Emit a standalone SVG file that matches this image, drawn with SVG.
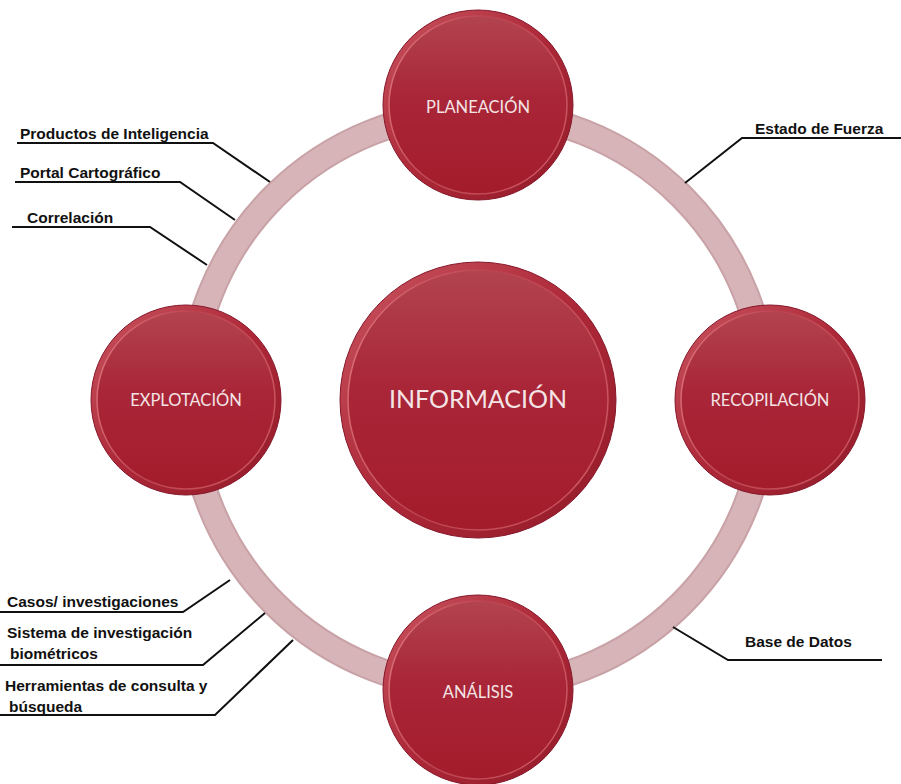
<svg xmlns="http://www.w3.org/2000/svg" width="901" height="784" viewBox="0 0 901 784">
<defs>
<linearGradient id="rim" x1="0" y1="0" x2="1" y2="1">
<stop offset="0" stop-color="#c9545f"/>
<stop offset="0.5" stop-color="#ad2838"/>
<stop offset="1" stop-color="#921b29"/>
</linearGradient>
<linearGradient id="face" x1="0" y1="0" x2="0" y2="1">
<stop offset="0" stop-color="#b2444f"/>
<stop offset="0.45" stop-color="#a92638"/>
<stop offset="1" stop-color="#a31c2c"/>
</linearGradient>
<linearGradient id="edge" x1="0" y1="0" x2="1" y2="0.3">
<stop offset="0" stop-color="#e07880"/>
<stop offset="0.5" stop-color="#bb4350"/>
<stop offset="1" stop-color="#c9535e"/>
</linearGradient>
<style>
.ring{fill:none;stroke:#c8a2a6;stroke-width:27}
.ringin{fill:none;stroke:#d6b4b7;stroke-width:23}
.outer{fill:url(#rim);stroke:#86172a;stroke-width:1}
.inner{fill:url(#face);stroke:url(#edge);stroke-width:1.5}
.t{font-family:Lato,"Open Sans",sans-serif;fill:#f4e4e6;text-anchor:middle}
.s{font-size:16.5px}
.lbl{font-family:"Liberation Sans",Arial,sans-serif;font-weight:bold;font-size:15.5px;fill:#111}
.ln{fill:none;stroke:#111;stroke-width:2}
</style>
</defs>
<rect width="901" height="784" fill="#ffffff"/>
<g id="ring">
<circle class="ring" cx="478" cy="400" r="288"/>
<circle class="ringin" cx="478" cy="400" r="288"/>
</g>
<g id="connectors">
<polyline class="ln" points="17,143 213,143 270,182"/>
<polyline class="ln" points="15,182 180,182 235,220"/>
<polyline class="ln" points="12,227 150,227 207,265"/>
<polyline class="ln" points="685,183 742,138 901,138"/>
<polyline class="ln" points="673,627 728,660 882,660"/>
<polyline class="ln" points="0,612 183,612 230,580"/>
<polyline class="ln" points="0,665 203,665 265,613"/>
<polyline class="ln" points="0,715 215,715 293,640"/>
</g>
<g id="node-planeacion">
<circle class="outer" cx="478" cy="105" r="95"/>
<circle class="inner" cx="478" cy="105" r="89"/>
<text class="t s" x="478" y="113">PLANEACIÓN</text>
</g>
<g id="node-recopilacion">
<circle class="outer" cx="770" cy="400" r="95"/>
<circle class="inner" cx="770" cy="400" r="89"/>
<text class="t s" x="770" y="406">RECOPILACIÓN</text>
</g>
<g id="node-analisis">
<circle class="outer" cx="478" cy="690" r="95"/>
<circle class="inner" cx="478" cy="690" r="89"/>
<text class="t s" x="478" y="698">ANÁLISIS</text>
</g>
<g id="node-explotacion">
<circle class="outer" cx="186" cy="400" r="95"/>
<circle class="inner" cx="186" cy="400" r="89"/>
<text class="t s" x="186" y="406">EXPLOTACIÓN</text>
</g>
<g id="node-informacion">
<circle class="outer" cx="478" cy="400" r="138"/>
<circle class="inner" cx="478" cy="400" r="130"/>
<text class="t" x="478" y="408" font-size="25">INFORMACIÓN</text>
</g>
<g id="labels">
<text class="lbl" x="20" y="139">Productos de Inteligencia</text>
<text class="lbl" x="20" y="178">Portal Cartográfico</text>
<text class="lbl" x="27" y="223">Correlación</text>
<text class="lbl" x="755" y="134">Estado de Fuerza</text>
<text class="lbl" x="745" y="647">Base de Datos</text>
<text class="lbl" x="7" y="607">Casos/ investigaciones</text>
<text class="lbl" x="7" y="638">Sistema de investigación</text>
<text class="lbl" x="10" y="659">biométricos</text>
<text class="lbl" x="5" y="691">Herramientas de consulta y</text>
<text class="lbl" x="9" y="712">búsqueda</text>
</g>
</svg>
